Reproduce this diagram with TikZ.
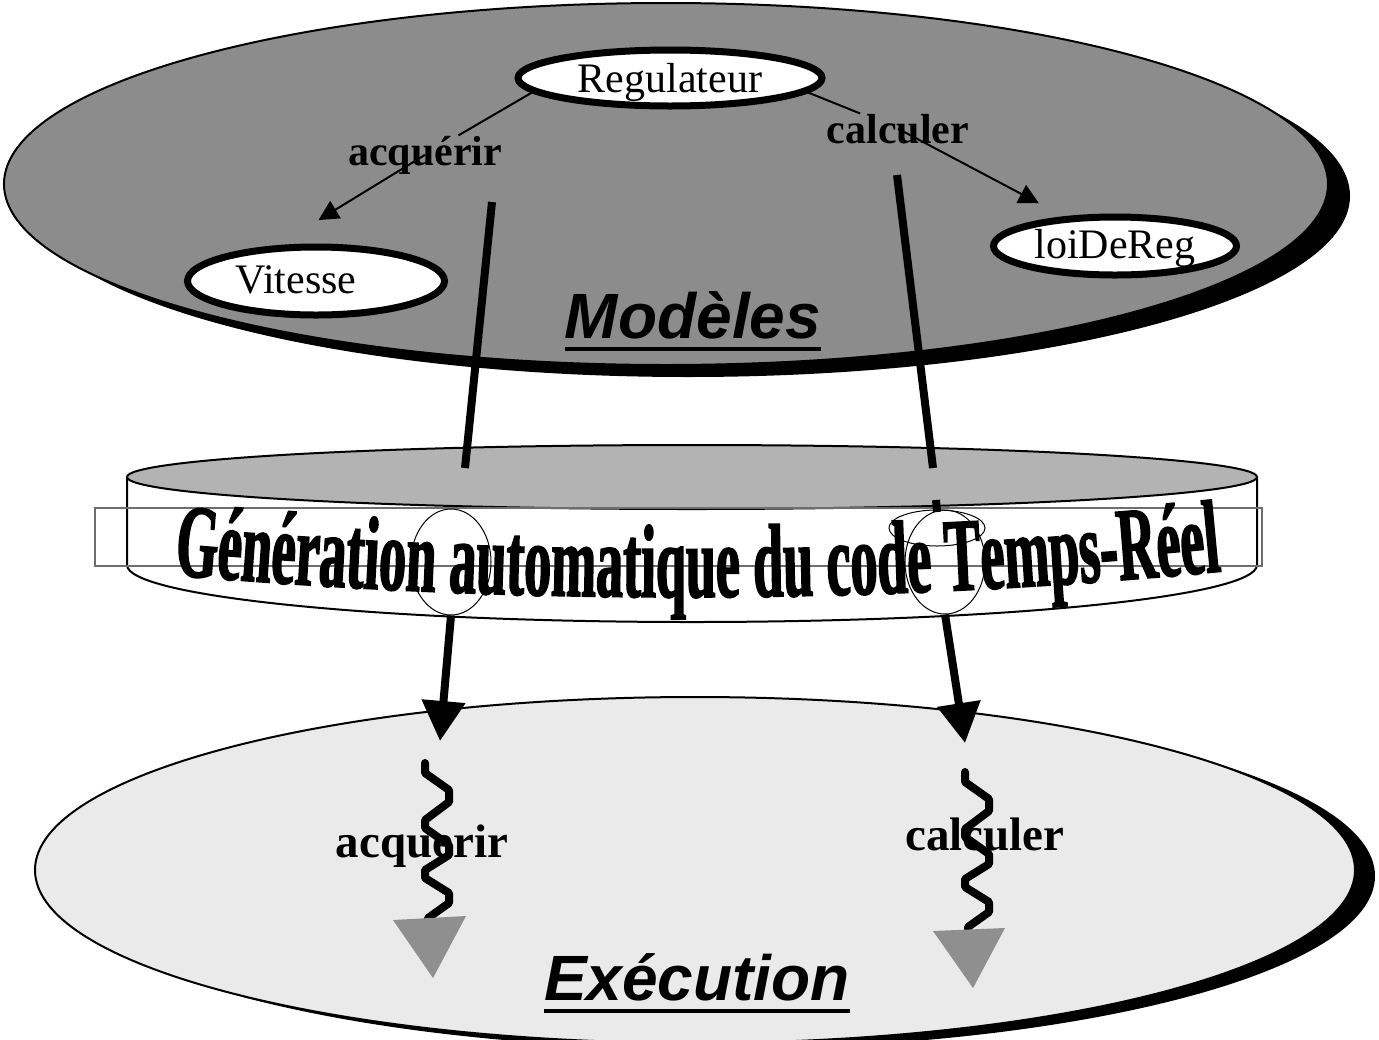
\documentclass[tikz,border=0pt]{standalone}
\usepackage{fontspec}
\setmainfont{Liberation Serif}
\setsansfont{Liberation Sans}
\newfontfamily\bandfont[FakeStretch=0.52,FakeBold=1.5]{Liberation Serif}
\newcommand{\thickul}[1]{\vtop{\hbox{#1}\kern4pt\hrule height 2pt}}
\usetikzlibrary{shapes.geometric,arrows.meta,decorations.text}
\definecolor{modgray}{RGB}{140,140,140}
\definecolor{bandgray}{RGB}{179,179,179}
\definecolor{execgray}{RGB}{234,234,234}
\definecolor{tipgray}{RGB}{143,143,143}
\definecolor{boxgray}{RGB}{110,110,110}
\begin{document}
\begin{tikzpicture}[
    x=0.5pt, y=-0.5pt,
    class/.style={draw, ellipse, line width=3.5pt, fill=white, inner sep=0pt,
      text depth=0pt, font=\fontsize{21}{25}\selectfont},
    action/.style={inner sep=0pt, font=\bfseries\fontsize{21}{25}\selectfont},
    task/.style={inner sep=0pt, font=\bfseries\fontsize{23.5}{28}\selectfont},
    heading/.style={inner sep=0pt, font=\sffamily\bfseries\itshape\fontsize{32}{38}\selectfont},
    call/.style={draw, line width=1pt, -{Triangle[length=10pt,width=10pt]}},
    gen/.style={line width=4pt},
    genarrow/.style={gen, -{Triangle[length=20pt,width=21pt]}},
    thread/.style={line width=4pt, line cap=round, line join=round},
    hole/.style={draw, ellipse, line width=0.5pt, inner sep=0pt}
  ]
  \useasboundingbox (0,0) rectangle (1379,1039);
  % Execution
  \fill (715,876) ellipse [x radius=660, y radius=173];
  \filldraw[fill=execgray, line width=1pt] (695,870) ellipse [x radius=660, y radius=173];
  % Modeles
  \fill (688,196) ellipse [x radius=662, y radius=181];
  \filldraw[fill=modgray, line width=1pt] (666,184) ellipse [x radius=662, y radius=181];
  \node[class, minimum width=152pt, minimum height=28pt, text height=14pt] (reg) at (670,78) {Regulateur};
  \node[class, minimum width=128.5pt, minimum height=34pt, text height=12pt] (vit) at (316,281) {Vitesse\kern20pt};
  \node[class, minimum width=121.5pt, minimum height=29pt, text height=12pt] (loi) at (1115,246) {loiDeReg};
  \node[action, anchor=base] (acqT) at (425,165) {acquérir};
  \node[action, anchor=base] (calT) at (898,143) {calculer};
  \draw[line width=1pt] (reg.186) -- (acqT);
  \draw[call, shorten >=24pt] (acqT.center) -- (vit.137);
  \draw[line width=1pt] (reg.-6) -- (calT);
  \draw[call, shorten >=14pt] (calT.center) -- (loi.150);
  \node[heading, anchor=base] (modl) at (693,338) {\thickul{Modèles}};
  % generation
  \filldraw[fill=white, line width=1pt] (127,477) -- (127,565)
    arc [start angle=180, end angle=0, x radius=565, y radius=57] -- (1257,477);
  \filldraw[fill=bandgray, line width=1pt] (692,477) ellipse [x radius=565, y radius=32];
  \draw[boxgray, line width=0.75pt] (95,508) rectangle (1262,566);
  \path[decorate, decoration={text along path, text align=center,
      text={|\bandfont\bfseries\fontsize{52}{52}\selectfont|Génération automatique du code Temps-Réel}}]
    (140,572) .. controls (512,606) and (884,606) .. (1255,568);
  \node[hole, minimum width=40pt, minimum height=53pt] (holeA) at (451,562) {};
  \node[hole, minimum width=40pt, minimum height=52pt] (holeC) at (945,562) {};
  \node[hole, minimum width=48pt, minimum height=18pt] (holeCtop) at (937,528) {};
  \coordinate (acqM) at (492,202);
  \coordinate (acqG) at (465,468);
  \coordinate (calM) at (897,175);
  \coordinate (calG) at (933,468);
  \draw[gen] (acqM) -- (acqG);
  \draw[gen] (calM) -- (calG);
  \draw[gen] (936,500) -- (937,512);
  \draw[genarrow] (holeA.south) -- (440,741);
  \draw[genarrow] (holeC.south) -- (965,743);
  % threads
  \node[task, anchor=base] (acqE) at (422,857) {acquerir};
  \node[task, anchor=base] (calE) at (985,850) {calculer};
  \draw[thread] (425,763) -- ++(0,10) -- ++(24,17) -- ++(0,12) -- ++(-24,18) -- ++(0,8)
    -- ++(24,17) -- ++(0,10) -- ++(-24,15) -- ++(0,8) -- ++(24,15) -- ++(0,10) -- ++(-21,15) -- ++(0,6);
  \draw[thread] (965,772) -- ++(0,10) -- ++(24,17) -- ++(0,12) -- ++(-24,18) -- ++(0,8)
    -- ++(24,17) -- ++(0,10) -- ++(-24,15) -- ++(0,8) -- ++(24,15) -- ++(0,10) -- ++(-21,15) -- ++(0,6);
  \fill[tipgray] (393,920) -- (466,916) -- (433,978) -- cycle;
  \fill[tipgray] (933,931) -- (1005,928) -- (973,988) -- cycle;
  \node[heading, anchor=base] (exec) at (697,1000) {\thickul{Exécution}};
\end{tikzpicture}
\end{document}
